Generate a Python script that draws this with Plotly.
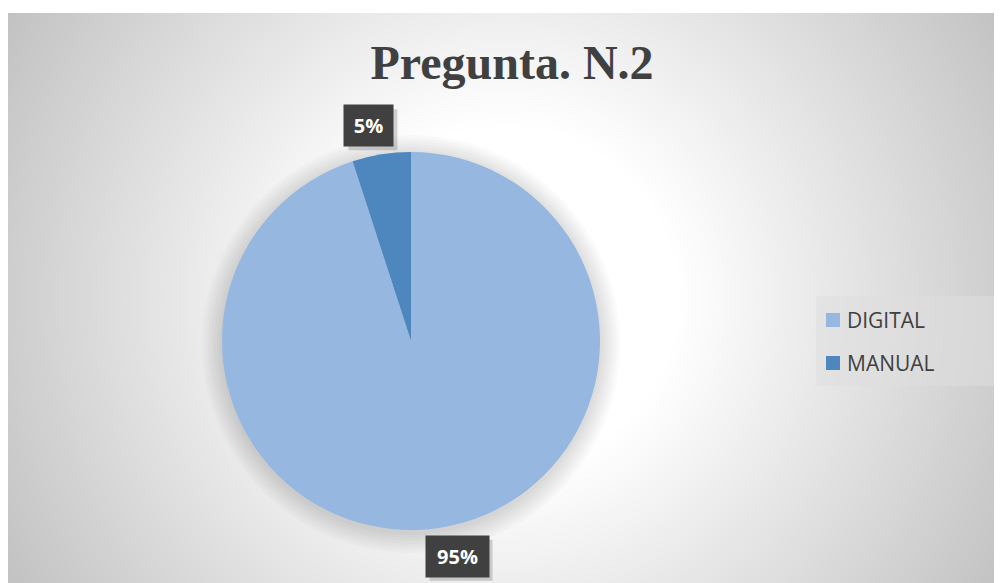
import numpy as np
import plotly.graph_objects as go

# page is 1002x583, the html body adds an 8px margin
PAGE_OFF = 8
W, H = 1002 - PAGE_OFF, 583 - PAGE_OFF

# data
labels = ["DIGITAL", "MANUAL"]
values = [95, 5]
colors = ["#96B7DF", "#4E86BE"]
title_text = "Pregunta. N.2"

# geometry (page pixels)
chart_x0, chart_y0 = 8, 13
pie_cx, pie_cy, pie_r = 411, 341, 189


def fx(px):
    return (px - PAGE_OFF) / W


def fy(py):
    return 1 - (py - PAGE_OFF) / H


def px_domain(cx, cy, r):
    return dict(x=[fx(cx - r), fx(cx + r)], y=[fy(cy + r), fy(cy - r)])


fig = go.Figure()

# background radial gradient (Excel style chart area fill)
cw, ch = 1002 - chart_x0, 583 - chart_y0
gx = np.linspace(0, cw, 80)
gy = np.linspace(0, ch, 48)
GX, GY = np.meshgrid(gx, gy)
dist = np.hypot(GX - cw / 2, GY - ch / 2) / np.hypot(cw / 2, ch / 2)
shade = np.clip((dist - 0.3) / 0.7, 0, 1)
fig.add_trace(go.Heatmap(
    x=gx, y=gy, z=shade, zsmooth="best", showscale=False,
    colorscale=[[0, "#ffffff"], [1, "#c2c2c2"]], zmin=0, zmax=1,
    hoverinfo="skip", xaxis="x", yaxis="y"))

# soft shadow around the pie
for grow in [20, 17, 14, 11, 8, 5, 2]:
    fig.add_trace(go.Pie(
        values=[1], labels=["shadow"], showlegend=False, sort=False,
        marker=dict(colors=["rgba(0,0,0,0.018)"], line=dict(width=0)),
        textinfo="none", hoverinfo="skip",
        domain=px_domain(pie_cx, pie_cy + 3, pie_r + grow)))

fig.add_trace(go.Pie(
    labels=labels, values=values, sort=False, direction="clockwise",
    rotation=0, marker=dict(colors=colors, line=dict(width=0)),
    textinfo="none", showlegend=False,
    domain=px_domain(pie_cx, pie_cy, pie_r)))

# data labels in dark boxes, placed at each slice's mid angle
total = sum(values)
label_dist = 218
label_shift = [12, -8]
box_w = [63, 49]
box_h = 41
start = 0.0
for v, sh, bw in zip(values, label_shift, box_w):
    frac = v / total
    mid = np.deg2rad((start + frac / 2) * 360)
    start += frac
    lx = pie_cx + label_dist * np.sin(mid) + sh
    ly = pie_cy - label_dist * np.cos(mid)
    # drop shadow of label box
    fig.add_shape(type="rect", xref="paper", yref="paper", layer="above",
                  x0=fx(lx - bw / 2 + 4), x1=fx(lx + bw / 2 + 4),
                  y0=fy(ly + box_h / 2 + 4), y1=fy(ly - box_h / 2 + 4),
                  fillcolor="rgba(0,0,0,0.16)", line=dict(width=0))
    fig.add_annotation(x=fx(lx), y=fy(ly), xref="paper", yref="paper",
                       text=f"<b>{round(frac * 100)}%</b>", showarrow=False,
                       width=bw, height=box_h, borderpad=0,
                       xanchor="center", yanchor="middle", bgcolor="#404040",
                       font=dict(family="Open Sans", size=20, color="white"))

# legend box on the right
leg_x0, leg_x1, leg_y0, leg_y1 = 816, 1000, 296, 386
leg_rows = [320, 363]
fig.add_shape(type="rect", xref="paper", yref="paper", layer="above",
              x0=fx(leg_x0), x1=fx(leg_x1), y0=fy(leg_y1), y1=fy(leg_y0),
              fillcolor="rgba(222,222,222,0.55)", line=dict(width=0))
for lab, col, ry in zip(labels, colors, leg_rows):
    fig.add_shape(type="rect", xref="paper", yref="paper", layer="above",
                  x0=fx(826), x1=fx(840), y0=fy(ry + 7), y1=fy(ry - 7),
                  fillcolor=col, line=dict(width=0))
    fig.add_annotation(x=fx(845), y=fy(ry), xref="paper", yref="paper",
                       text=lab, showarrow=False, xanchor="left", yanchor="middle",
                       font=dict(family="Open Sans", size=21, color="#404040"))

fig.update_layout(
    width=W, height=H,
    margin=dict(l=0, r=0, t=0, b=0),
    paper_bgcolor="white", plot_bgcolor="white",
    xaxis=dict(domain=[fx(chart_x0), 1], range=[0, cw], visible=False, fixedrange=True),
    yaxis=dict(domain=[0, fy(chart_y0)], range=[ch, 0], visible=False, fixedrange=True),
    title=dict(text=f"<b>{title_text}</b>", x=fx(512), xanchor="center",
               y=fy(62), yanchor="middle",
               font=dict(family="Liberation Serif", size=48, color="#404040")),
    showlegend=False,
)

fig.write_html("out.html")
